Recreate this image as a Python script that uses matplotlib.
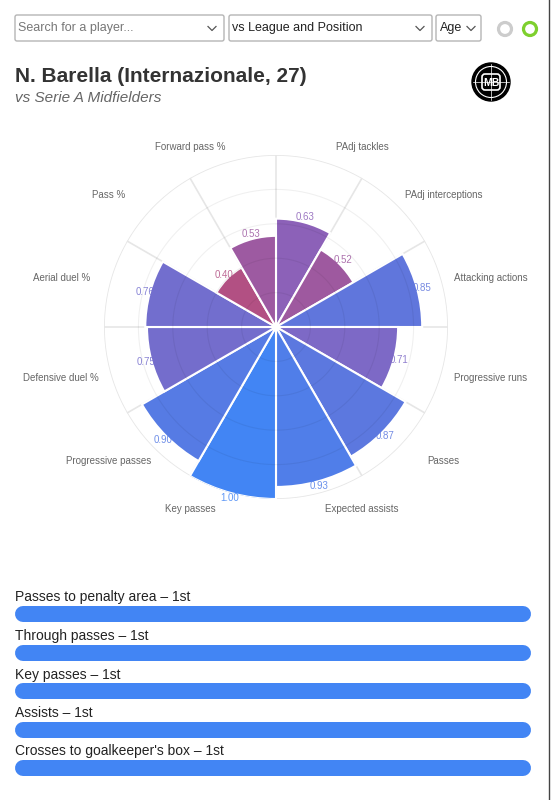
import numpy as np
import matplotlib
matplotlib.use("Agg")
import matplotlib.pyplot as plt
from matplotlib.patches import FancyBboxPatch, Circle
from matplotlib.colors import LinearSegmentedColormap, Normalize

plt.rcParams['font.family'] = ['Liberation Sans', 'DejaVu Sans']

# radar data, clockwise from 12 o'clock
categories = ['PAdj tackles', 'PAdj interceptions', 'Attacking actions', 'Progressive runs',
              'Passes', 'Expected assists', 'Key passes', 'Progressive passes',
              'Defensive duel %', 'Aerial duel %', 'Pass %', 'Forward pass %']
values = [0.63, 0.52, 0.85, 0.71, 0.87, 0.93, 1.00, 0.90, 0.75, 0.76, 0.40, 0.53]

# percentile bars underneath
bar_metrics = ['Passes to penalty area', 'Through passes', 'Key passes', 'Assists',
               "Crosses to goalkeeper's box"]
bar_ranks = ['1st', '1st', '1st', '1st', '1st']
bar_fill = [1.0, 1.0, 1.0, 1.0, 1.0]

player = 'N. Barella (Internazionale, 27)'
subtitle = 'vs Serie A Midfielders'

W, H = 554, 800
fig = plt.figure(figsize=(W / 100, H / 100), dpi=100)

# pixel-space axes for the page furniture
ui = fig.add_axes([0, 0, 1, 1])
ui.set_xlim(0, W)
ui.set_ylim(H, 0)
ui.axis('off')

# dropdowns
boxes = [(15, 224, 'Search for a player...', '#777777'),
         (229, 432, 'vs League and Position', '#222222'),
         (436, 481, 'Age', '#222222')]
for x0, x1, txt, col in boxes:
    ui.add_patch(FancyBboxPatch((x0, 15), x1 - x0, 26, boxstyle='round,pad=0,rounding_size=2',
                                fc='white', ec='#b5b5b5', lw=1))
    ui.text(x0 + 3.5, 28.5, txt, fontsize=9, color=col, va='center', ha='left')
    chev = x1 - 12 if x1 - x0 > 60 else x1 - 10
    ui.plot([chev - 4, chev, chev + 4], [26.5, 30.5, 26.5], color='#555555', lw=0.9)

ui.add_patch(Circle((505, 29), 6.5, fc='none', ec='#cccccc', lw=2.3))
ui.add_patch(Circle((530, 29), 6.5, fc='none', ec='#7ed02e', lw=2.3))

# title
ui.text(15, 76, player, fontsize=15, fontweight='bold', color='#333333', va='center')
ui.text(15, 98.5, subtitle, fontsize=11, style='italic', color='#666666', va='center')

# logo
ui.add_patch(Circle((491, 82), 19, fc='black', ec='black', lw=1))
ui.add_patch(Circle((491, 82), 15.5, fc='none', ec='white', lw=0.8))
ui.plot([491, 491], [64, 100], color='white', lw=0.5)
ui.plot([473, 509], [82, 82], color='white', lw=0.5)
ui.add_patch(FancyBboxPatch((482, 74), 18, 16, boxstyle='round,pad=0,rounding_size=3',
                            fc='black', ec='white', lw=1.2))
ui.text(491, 82.5, 'MB', fontsize=7.5, fontweight='bold', color='white', ha='center', va='center')

# right border
ui.plot([549, 549], [0, H], color='#444444', lw=1)

# percentile bars
bar_left, bar_right, lw_px = 15, 531, 16
for i, (m, r, f) in enumerate(zip(bar_metrics, bar_ranks, bar_fill)):
    yb = 614 + i * 38.5
    ui.text(15, yb - 16.5, f'{m} – {r}', fontsize=10, color='#222222', va='center')
    x_end = bar_left + lw_px / 2 + (bar_right - bar_left - lw_px) * f
    ui.plot([bar_left + lw_px / 2, x_end], [yb, yb], color='#4285f4',
            lw=lw_px * 0.72, solid_capstyle='round')

# radar
cx, cy, R = 276, 327, 172
ax = fig.add_axes([(cx - R) / W, (H - cy - R) / H, 2 * R / W, 2 * R / H], projection='polar')
ax.set_facecolor('none')
ax.set_theta_zero_location('N')
ax.set_theta_direction(-1)
ax.set_ylim(0, 1)
ax.grid(False)
ax.spines['polar'].set_visible(False)
ax.set_xticks([])
ax.set_yticks([])

n = len(categories)
width = 2 * np.pi / n
theta = np.arange(n) * width + width / 2

cmap = LinearSegmentedColormap.from_list('rb', [(0, '#ba4d78'), (0.45, '#8a62bb'), (1, '#4285f4')])
norm = Normalize(0.35, 1.0)
colors = [cmap(norm(v)) for v in values]

ax.bar(theta, values, width=width, color=colors, edgecolor='white', linewidth=1.5, zorder=2)

# grid circles and spokes
t = np.linspace(0, 2 * np.pi, 400)
for rr in [0.2, 0.4, 0.6, 0.8]:
    ax.plot(t, np.full_like(t, rr), color='#000000', alpha=0.06, lw=0.8, zorder=3)
ax.plot(t, np.full_like(t, 1.0), color='#e6e6e6', lw=1.2, zorder=1)
for k in range(n):
    ax.plot([k * width, k * width], [0, 1], color='#e6e6e6', lw=1.2, zorder=1)
ax.add_patch(Circle((0, 0), 0.02, transform=ax.transData._b, fc='white', ec='none', zorder=4))

# value labels
for th, v, c in zip(theta, values, colors):
    ax.text(th, v + 0.03, f'{v:.2f}', fontsize=7, color=c, alpha=0.85,
            ha='center', va='center', zorder=5)

# category labels
for th, lab in zip(theta, categories):
    s, c = np.sin(th), np.cos(th)
    px = np.sign(s) * (39 + 182 * abs(s))
    py = 185 * c + 2 * np.sign(c)
    ui.text(cx + px, cy - py + 1, lab, fontsize=7, color='#666666', ha='center', va='center')

fig.savefig('out.png', dpi=100, facecolor='white')
